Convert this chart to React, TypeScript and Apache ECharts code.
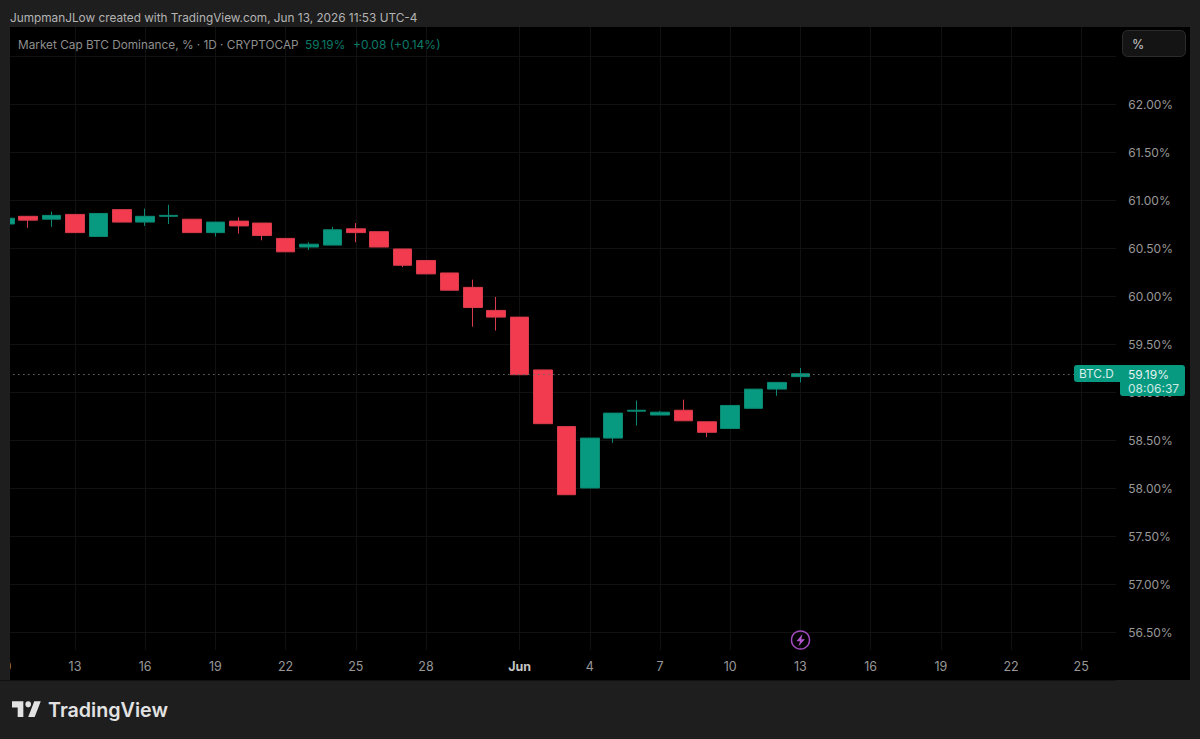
import React, { useEffect, useRef } from "react";
import * as echarts from "echarts";

const categories = [
  "05-10","05-11","05-12","05-13","05-14","05-15","05-16","05-17","05-18","05-19","05-20","05-21",
  "05-22","05-23","05-24","05-25","05-26","05-27","05-28","05-29","05-30","05-31","06-01","06-02",
  "06-03","06-04","06-05","06-06","06-07","06-08","06-09","06-10","06-11","06-12","06-13","06-14",
  "06-15","06-16","06-17","06-18","06-19","06-20","06-21","06-22","06-23","06-24","06-25","06-26",
];
const tickCategories = [
  "05-10","05-13","05-16","05-19","05-22","05-25","05-28","06-01","06-04","06-07","06-10","06-13",
  "06-16","06-19","06-22","06-25",
];
// open, close, low, high
const opens = [60.75,60.83,60.80,60.85,60.62,60.90,60.77,60.83,60.80,60.66,60.78,60.76,60.60,60.51,60.53,60.70,60.67,60.49,60.37,60.24,60.09,59.85,59.78,59.23,58.64,58.00,58.52,58.80,58.76,58.81,58.69,58.62,58.83,59.03,59.16];
const closes = [60.81,60.79,60.84,60.66,60.86,60.77,60.83,60.84,60.66,60.77,60.73,60.63,60.46,60.54,60.69,60.66,60.51,60.32,60.23,60.06,59.88,59.78,59.18,58.67,57.93,58.52,58.78,58.81,58.79,58.70,58.58,58.86,59.03,59.10,59.19];
const lows = [60.75,60.71,60.72,60.66,60.62,60.77,60.73,60.75,60.66,60.62,60.65,60.58,60.46,60.48,60.53,60.56,60.51,60.30,60.23,60.06,59.68,59.64,59.18,58.67,57.93,58.00,58.47,58.65,58.76,58.70,58.53,58.62,58.83,58.96,59.10];
const highs = [60.81,60.83,60.88,60.85,60.86,60.90,60.91,60.95,60.80,60.77,60.82,60.76,60.60,60.56,60.72,60.76,60.67,60.49,60.37,60.24,60.17,59.99,59.78,59.23,58.64,58.52,58.78,58.91,58.80,58.92,58.69,58.86,59.03,59.10,59.25];
const lastPrice = 59.19;
const hiddenPriceLabels = [56, 62.5, 63];

const attribution = "JumpmanJLow created with TradingView.com, Jun 13, 2026 11:53 UTC-4";
const legendTitle = "Market Cap BTC Dominance, % · 1D · CRYPTOCAP";
const legendPrice = "59.19%";
const legendChange = "+0.08 (+0.14%)";

const UP = "#089981";
const DOWN = "#F23B4E";
const UP_WICK = "#0B8872";
const DOWN_WICK = "#D83C4C";
const PAGE = "#1E1E1E";
const GRID = "#111111";
const AXIS_TEXT = "#989898";
const FONT = "Inter, 'Liberation Sans', sans-serif";

const LOGO = "M14 25H7V14H0V7h14v18zM28 25h-8l7.5-18h8L28 25zM20 14a3.5 3.5 0 1 0 0-7 3.5 3.5 0 0 0 0 7z";
const BOLT = "M6 0L0 7.5h3.6L2 13l6.5-7.6H4.8L6 0z";
echarts.graphic.registerShape("tvLogo", echarts.graphic.extendPath(LOGO, {}));
echarts.graphic.registerShape("bolt", echarts.graphic.extendPath(BOLT, {}));

const txt = (x: number, y: number, text: string, fill: string, size: number, z = 8, extra: any = {}) => ({
  type: "text", x, y, z, silent: true,
  style: { text, fill, fontSize: size, fontFamily: FONT, textVerticalAlign: "middle", verticalAlign: "middle", ...extra },
});

export default function App() {
  const ref = useRef<HTMLDivElement>(null);
  useEffect(() => {
    document.body.style.margin = "0";
    document.body.style.background = PAGE;
    const chart = echarts.init(ref.current!, null, { renderer: "svg" });
    chart.setOption({
      animation: false,
      backgroundColor: PAGE,
      textStyle: { fontFamily: FONT },
      grid: { left: -6.9, top: 8, width: 1123.2, height: 672, outerBoundsMode: "none" },
      xAxis: [
        {
          type: "category", data: categories, position: "bottom",
          axisLine: { show: false }, axisTick: { show: false }, axisLabel: { show: false },
          splitLine: {
            show: true, alignWithLabel: true,
            interval: (_: number, v: string) => tickCategories.includes(v),
            lineStyle: { color: GRID, width: 1 },
          },
        },
        {
          type: "category", data: categories, position: "bottom", offset: -28, z: 4,
          axisLine: { show: false }, axisTick: { show: false, alignWithLabel: true }, splitLine: { show: false },
          axisLabel: {
            show: true, margin: 8, color: AXIS_TEXT, fontSize: 12.5, fontFamily: FONT, hideOverlap: false,
            showMinLabel: true,
            interval: (_: number, v: string) => tickCategories.includes(v),
            formatter: (v: string) => (v === "06-01" ? "{b|Jun}" : String(Number(v.slice(3)))),
            rich: { b: { color: "#C4C4C4", fontSize: 12.5, fontWeight: 700, fontFamily: FONT } },
          },
        },
      ],
      yAxis: {
        type: "value", position: "right", min: 56, max: 63, interval: 0.5,
        axisLine: { show: false }, axisTick: { show: false },
        axisLabel: {
          margin: 12, color: AXIS_TEXT, fontSize: 12, fontFamily: FONT,
          formatter: (v: number) => (hiddenPriceLabels.includes(v) ? "" : v.toFixed(2) + "%"),
        },
        splitLine: { show: true, lineStyle: { color: GRID, width: 1 } },
      },
      series: [
        {
          type: "line", data: [], z: 1, xAxisIndex: 0, silent: true,
          markLine: {
            silent: true, symbol: "none", label: { show: false },
            data: [{ yAxis: lastPrice }],
            lineStyle: { color: "#6A6A6A", type: [1.5, 3.5], width: 1 },
          },
        },
        {
          type: "candlestick", z: 2, xAxisIndex: 0, barWidth: 19, silent: true,
          data: opens.map((o, i) => [o, closes[i], lows[i], highs[i]]),
          itemStyle: { color: UP, color0: DOWN, borderColor: UP_WICK, borderColor0: DOWN_WICK, borderWidth: 1 },
        },
      ],
      graphic: {
        elements: [
          { type: "rect", z: -1, silent: true, shape: { x: 10, y: 27, width: 1180, height: 653 }, style: { fill: "#000" } },
          { type: "rect", z: 3, silent: true, shape: { x: 10, y: 650, width: 1180, height: 30 }, style: { fill: "#000" } },
          { type: "rect", z: 3, silent: true, shape: { x: 0, y: 0, width: 1200, height: 27 }, style: { fill: PAGE } },
          { type: "rect", z: 6, silent: true, shape: { x: 0, y: 27, width: 10, height: 653 }, style: { fill: PAGE } },
          txt(10, 18, attribution, "#B4B4B4", 11.8),
          txt(18, 44.5, legendTitle, "#8E8E8E", 11.8),
          txt(305, 44.5, legendPrice, "#0B7A67", 11.8),
          txt(353, 44.5, legendChange, "#0B7A67", 12),
          { type: "rect", z: 7, silent: true, shape: { x: 1122.5, y: 30.5, width: 63, height: 26, r: 5 }, style: { fill: "#141414", stroke: "#2C2C2C", lineWidth: 1 } },
          txt(1132, 44, "%", "#C8C8C8", 12.5),
          { type: "rect", z: 7, silent: true, shape: { x: 1074, y: 365, width: 46, height: 17, r: [3, 0, 0, 3] }, style: { fill: UP } },
          { type: "rect", z: 7, silent: true, shape: { x: 1120, y: 365, width: 65, height: 31, r: [0, 3, 3, 3] }, style: { fill: UP } },
          txt(1079, 374, "BTC.D", "#D6EFE9", 11.8),
          txt(1128, 374, "59.19%", "#E4F4F0", 12),
          txt(1128, 388, "08:06:37", "#CDEAE3", 12),
          { type: "circle", z: 7, silent: true, shape: { cx: 800.5, cy: 640, r: 9 }, style: { fill: "none", stroke: "#A24BBE", lineWidth: 1.5 } },
          { type: "bolt", z: 7, silent: true, x: 796.5, y: 634, scaleX: 1, scaleY: 0.95, style: { fill: "#B455D0" } },
          { type: "tvLogo", z: 7, silent: true, x: 12, y: 695.2, scaleX: 0.81, scaleY: 0.87, style: { fill: "#E2E2E2" } },
          txt(48, 709.5, "TradingView", "#E2E2E2", 19.7, 7, { fontWeight: 600 }),
        ],
      },
    });
    return () => chart.dispose();
  }, []);
  return <div ref={ref} style={{ position: "fixed", left: 0, top: 0, width: 1200, height: 739 }} />;
}
